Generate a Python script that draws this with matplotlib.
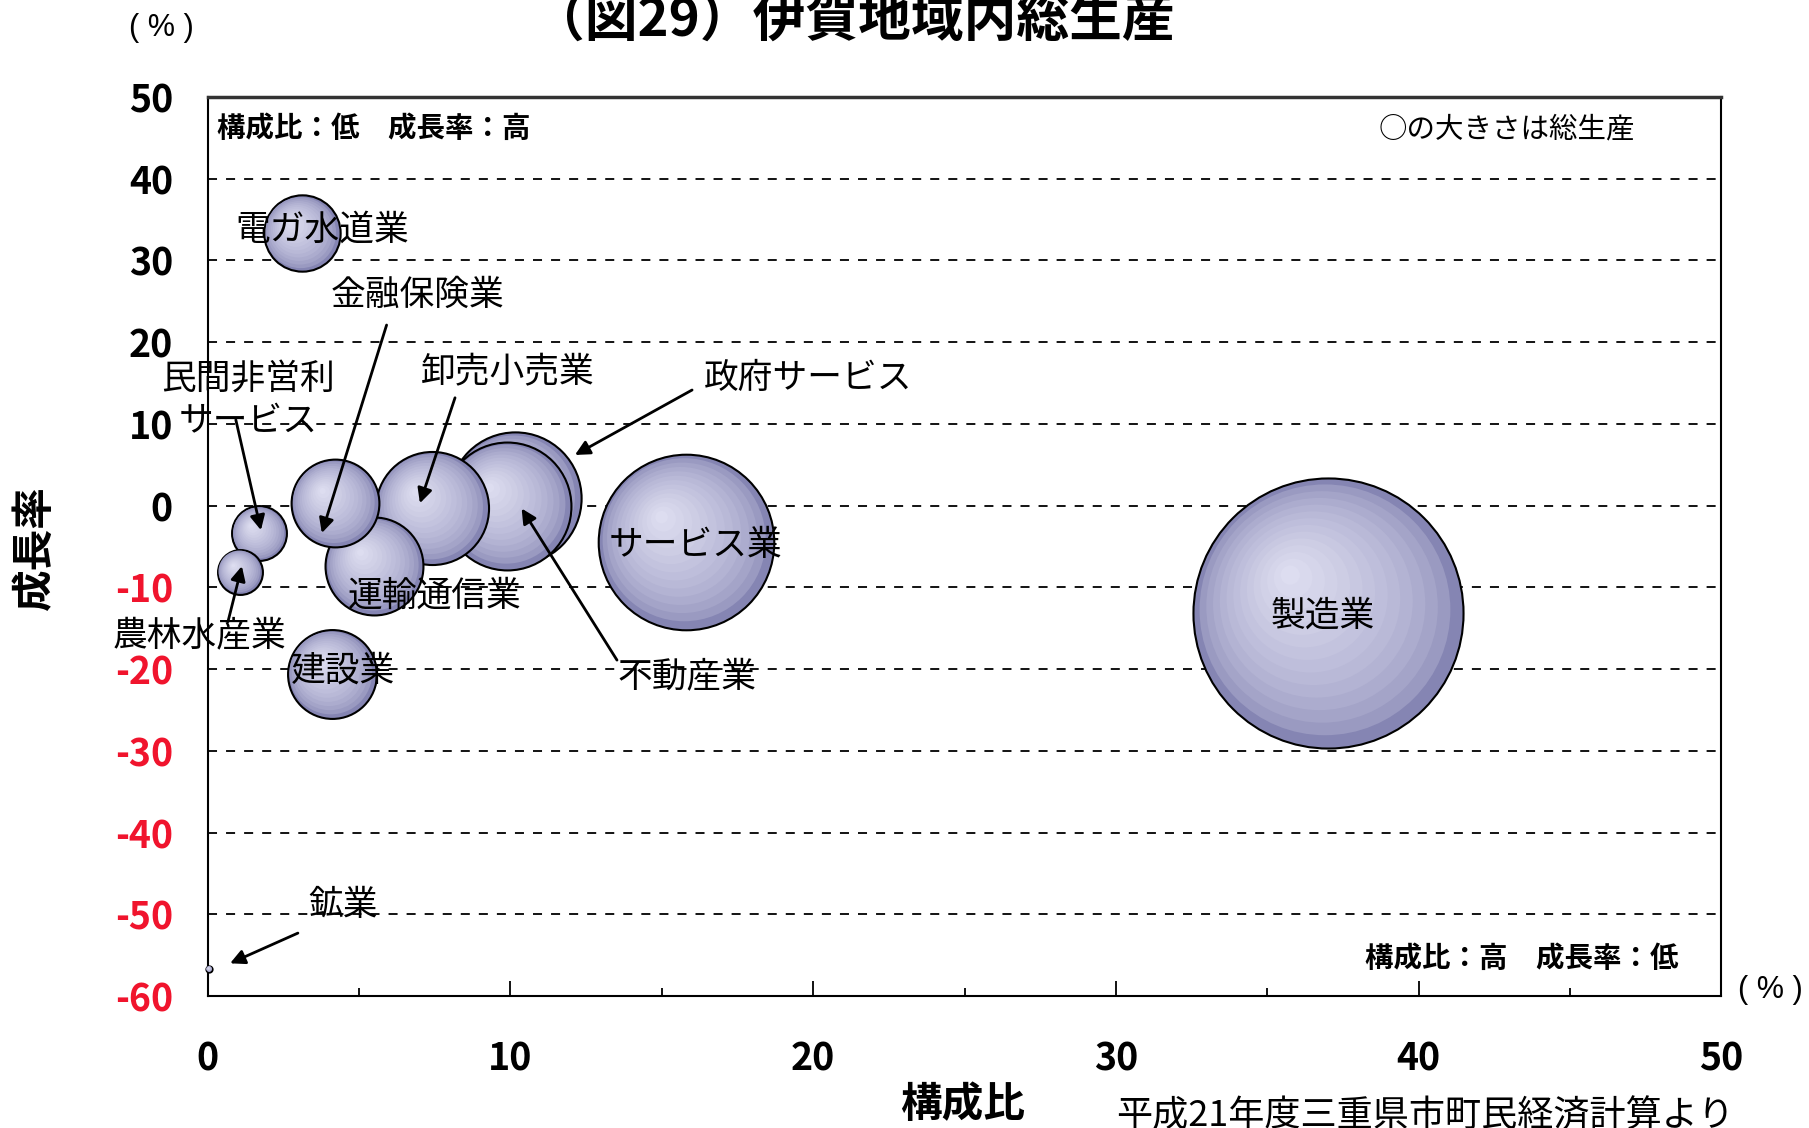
import numpy as np
import matplotlib
matplotlib.use("Agg")
import matplotlib.pyplot as plt
from matplotlib.transforms import offset_copy

plt.rcParams['font.family'] = ['Noto Sans CJK JP', 'DejaVu Sans']

# DATA
industries = ['製造業', 'サービス業', '政府サービス', '不動産業', '卸売小売業', '運輸通信業',
              '金融保険業', '建設業', '電ガ水道業', '民間非営利サービス', '農林水産業', '鉱業']
share = [37.0, 15.8, 10.15, 9.9, 7.4, 5.5, 4.2, 4.1, 3.1, 1.7, 1.06, 0.05]        # 構成比 (%)
growth = [-13.1, -4.4, 0.9, 0.0, -0.3, -7.4, 0.3, -20.6, 33.3, -3.4, -8.1, -56.7]  # 成長率 (%)
output_size = [38.8, 16.4, 9.3, 8.7, 6.8, 5.1, 4.1, 4.2, 3.1, 1.6, 1.07, 0.02]    # 総生産 (bubble size)

# label text, label position, arrow tail, arrow head (None = no arrow)
labels = ['製造業', 'サービス業', '政府サービス', '不動産業', '卸売小売業', '運輸通信業',
          '金融保険業', '建設業', '電ガ水道業', '民間非営利\nサービス', '農林水産業', '鉱業']
label_pos = [(36.85, -13.5), (16.1, -4.9), (19.82, 15.6), (15.82, -21.0), (9.91, 16.3), (7.48, -11.1),
             (6.93, 25.7), (4.46, -20.2), (3.78, 33.7), (1.33, 12.9), (-0.27, -15.9), (4.47, -48.9)]
arrow_tail = [None, None, (16.0, 14.15), (13.52, -18.9), (8.17, 13.2), None,
              (5.91, 22.1), None, None, (0.93, 10.5), (0.67, -14.2), (2.98, -52.3)]
arrow_head = [None, None, (12.13, 6.2), (10.37, -0.35), (7.01, 0.3), None,
              (3.77, -3.35), None, None, (1.76, -3.0), (1.13, -7.4), (0.74, -56.0)]

# drawing order (back to front)
draw_order = ['製造業', 'サービス業', '政府サービス', '不動産業', '卸売小売業', '運輸通信業',
              '金融保険業', '建設業', '電ガ水道業', '民間非営利サービス', '農林水産業', '鉱業']

fig = plt.figure(figsize=(18.09, 11.28), dpi=100)
ax = fig.add_axes([0.1148, 0.117, 0.8368, 0.797])
ax.set_xlim(0, 50)
ax.set_ylim(-60, 50)

# dashed grid
for gy in range(-50, 50, 10):
    ax.axhline(gy, color='black', lw=1.3, linestyle=(0, (5, 5)), zorder=1)

# bubbles with radial shading
edge_rgb = np.array([0.52, 0.52, 0.70])
center_rgb = np.array([0.88, 0.88, 0.95])
n_layers = 14
for z, name in enumerate(draw_order):
    i = industries.index(name)
    s_full = 974.6 * output_size[i]          # marker area in pt^2
    r_pt = np.sqrt(s_full) / 2
    for k in range(n_layers):
        t = k / n_layers
        col = edge_rgb + (center_rgb - edge_rgb) * t ** 0.55
        tr = offset_copy(ax.transData, fig=fig, x=-0.3 * r_pt * t, y=0.3 * r_pt * t, units='points')
        ax.scatter([share[i]], [growth[i]], s=s_full * (1 - t) ** 2, color=col,
                   edgecolors='black' if k == 0 else 'none', linewidths=1.5 if k == 0 else 0,
                   transform=tr, zorder=2 + z + k * 0.01, clip_on=False)

# labels and arrows
for i in range(len(labels)):
    ax.text(label_pos[i][0], label_pos[i][1], labels[i], fontsize=25, ha='center', va='center',
            zorder=30, linespacing=1.3)
    if arrow_tail[i] is not None:
        ax.annotate('', xy=arrow_head[i], xytext=arrow_tail[i], zorder=31,
                    arrowprops=dict(arrowstyle='-|>', color='black', lw=2, mutation_scale=22,
                                    shrinkA=0, shrinkB=0))

# axes styling
for sp in ax.spines.values():
    sp.set_linewidth(1.5)
ax.spines['top'].set_linewidth(2.5)
ax.spines['top'].set_color('#333333')

ax.set_xticks(range(0, 51, 10))
ax.set_xticks(range(5, 50, 10), minor=True)
ax.tick_params(axis='x', which='major', direction='in', length=10.8, width=1.3, pad=31,
               labelsize=27)
ax.tick_params(axis='x', which='minor', direction='in', length=5.8, width=1.3)
yt = list(range(-60, 51, 10))
ax.set_yticks(yt)
ax.set_yticklabels([str(v) for v in yt])
ax.tick_params(axis='y', length=0, pad=25, labelsize=27)
for lab in ax.get_xticklabels() + ax.get_yticklabels():
    lab.set_fontweight('bold')
for lab, v in zip(ax.get_yticklabels(), yt):
    if v < 0:
        lab.set_color('#f0142d')

# corner notes
ax.text(0.006, 0.964, '構成比：低　成長率：高', transform=ax.transAxes, fontsize=20.5,
        fontweight='bold', ha='left', va='center')
ax.text(0.943, 0.964, '○の大きさは総生産', transform=ax.transAxes, fontsize=20.5,
        ha='right', va='center')
ax.text(0.9717, 0.041, '構成比：高　成長率：低', transform=ax.transAxes, fontsize=20.5,
        fontweight='bold', ha='right', va='center')

# titles and axis labels
fig.text(853.7 / 1809, 1 - 20 / 1128, '（図29）伊賀地域内総生産', fontsize=38, fontweight='bold',
         ha='center', va='center')
fig.text(161.5 / 1809, 1 - 27.7 / 1128, '( % )', fontsize=22, family='Liberation Sans',
         ha='center', va='center')
fig.text(1770 / 1809, 1 - 990 / 1128, '( % )', fontsize=22, family='Liberation Sans',
         ha='center', va='center')
fig.text(34.6 / 1809, 1 - 548 / 1128, '成長率', fontsize=30, fontweight='bold', rotation=90,
         ha='center', va='center')
fig.text(963 / 1809, 1 - 1105 / 1128, '構成比', fontsize=30, fontweight='bold',
         ha='center', va='center')
fig.text(1734 / 1809, 1 - 1116 / 1128, '平成21年度三重県市町民経済計算より', fontsize=26,
         ha='right', va='center')

fig.savefig('out.png', dpi=100)
